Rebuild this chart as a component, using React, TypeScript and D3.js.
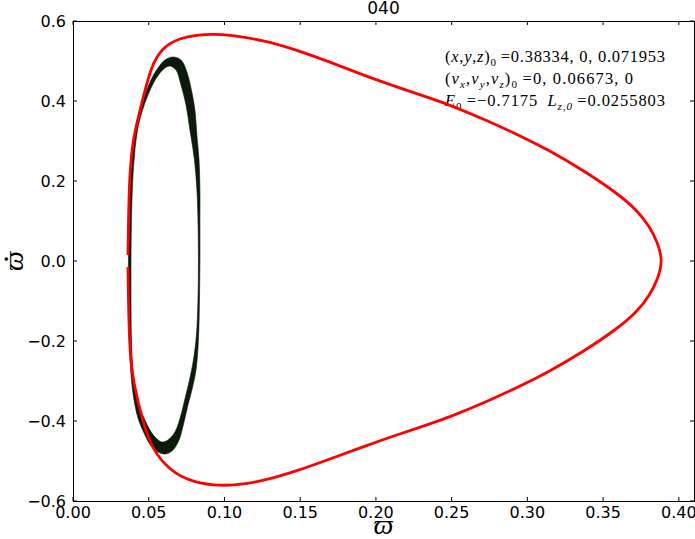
import * as d3 from "d3";

// Figure size and plot box (pixels)
const W = 695;
const H = 539;
const MARGIN = { top: 21, right: 1, bottom: 38, left: 73 };

const TITLE = "040";
const X_TICKS = [0, 0.05, 0.1, 0.15, 0.2, 0.25, 0.3, 0.35, 0.4];
const Y_TICKS = [-0.6, -0.4, -0.2, 0, 0.2, 0.4, 0.6];

// Red orbit: upper branch from left to right, lower branch from right back to left
const redUpper: [number, number][] = [
  [0.0363, 0.015], [0.0366, 0.1025], [0.0373, 0.2025], [0.0383, 0.2525],
  [0.0396, 0.3025], [0.0442, 0.3775], [0.0488, 0.445], [0.0528, 0.495],
  [0.0594, 0.535], [0.0706, 0.5575], [0.0818, 0.565], [0.0924, 0.5675],
  [0.1036, 0.565], [0.1254, 0.5525], [0.1479, 0.5275], [0.1696, 0.4975],
  [0.1914, 0.465], [0.2139, 0.435], [0.2356, 0.4075], [0.2488, 0.39],
  [0.2726, 0.3525], [0.2941, 0.315], [0.3139, 0.2775], [0.3366, 0.2275],
  [0.3591, 0.17], [0.3723, 0.1275], [0.3809, 0.085], [0.3861, 0.045],
  [0.3894, 0],
];
const redLower: [number, number][] = [
  [0.3861, -0.045], [0.3809, -0.085], [0.3723, -0.1275], [0.3591, -0.17],
  [0.3366, -0.2275], [0.3139, -0.2775], [0.2941, -0.315], [0.2726, -0.3525],
  [0.2488, -0.39], [0.2356, -0.4075], [0.2139, -0.4345], [0.1914, -0.4645],
  [0.1696, -0.495], [0.1479, -0.525], [0.1254, -0.55], [0.1102, -0.5595],
  [0.0924, -0.5625], [0.0752, -0.5475], [0.064, -0.5225], [0.0528, -0.4745],
  [0.0462, -0.405], [0.0396, -0.2975], [0.0383, -0.2525], [0.0373, -0.2025],
  [0.0366, -0.1025], [0.0363, -0.015],
];

// Black section points: outer and inner edge of the band
const ringOuter: [number, number][] = [
  [0.066, 0.51], [0.0713, 0.5025], [0.0752, 0.4725], [0.0779, 0.4325],
  [0.0805, 0.3775], [0.0818, 0.315], [0.0832, 0.2525], [0.0838, 0.1775],
  [0.0838, 0.1025], [0.0838, 0], [0.0835, -0.0975], [0.0828, -0.1975],
  [0.0812, -0.2725], [0.0785, -0.3225], [0.0759, -0.36], [0.0733, -0.4025],
  [0.07, -0.4475], [0.066, -0.4725], [0.0614, -0.4825], [0.0561, -0.4775],
  [0.0515, -0.4625], [0.0469, -0.43], [0.0429, -0.3925], [0.0403, -0.3475],
  [0.0383, -0.285], [0.0373, -0.1975], [0.037, -0.0975], [0.0366, 0],
  [0.037, 0.1025], [0.0376, 0.19], [0.0389, 0.265], [0.0409, 0.3275],
  [0.0442, 0.3775], [0.0482, 0.4225], [0.0521, 0.4575], [0.0561, 0.4825],
  [0.0607, 0.5025],
];
const ringInner: [number, number][] = [
  [0.064, 0.4875], [0.068, 0.4775], [0.0713, 0.44], [0.0746, 0.39],
  [0.0772, 0.3275], [0.0802, 0.2525], [0.0818, 0.1775], [0.0825, 0.1025],
  [0.0828, 0], [0.0825, -0.0975], [0.0815, -0.185], [0.0795, -0.2475],
  [0.0769, -0.2975], [0.0742, -0.34], [0.0709, -0.39], [0.0673, -0.4275],
  [0.0627, -0.4475], [0.0587, -0.4525], [0.0548, -0.4425], [0.0508, -0.4225],
  [0.0475, -0.3975], [0.0442, -0.3675], [0.0416, -0.3275], [0.0396, -0.2725],
  [0.0386, -0.1975], [0.0383, -0.0975], [0.0383, 0], [0.0386, 0.1025],
  [0.0393, 0.19], [0.0406, 0.265], [0.0426, 0.3275], [0.0455, 0.3725],
  [0.0495, 0.415], [0.0535, 0.4475], [0.0574, 0.47], [0.0607, 0.4825],
];

// Annotation lines: [text, italic, subscript]
type Seg = [string, boolean, boolean];
const NOTE_LINES: Seg[][] = [
  [["(", false, false], ["x", true, false], [",", false, false], ["y", true, false],
   [",", false, false], ["z", true, false], [")", false, false], ["0", false, true],
   ["\u2009=0.38334, 0, 0.071953", false, false]],
  [["(", false, false], ["v", true, false], ["x", true, true], [",", false, false],
   ["v", true, false], ["y", true, true], [",", false, false], ["v", true, false],
   ["z", true, true], [")", false, false], ["0", false, true], ["\u2009=0, 0.06673, 0", false, false]],
  [["E", true, false], ["0", false, true], ["\u2009=\u22120.7175\u2002", false, false],
   ["L", true, false], ["z,0", true, true], ["\u2009=0.0255803", false, false]],
];
const NOTE_WIDTHS = [220, 188, 220];

const SANS = "DejaVu Sans, sans-serif";
const SERIF = "Liberation Serif, DejaVu Serif, serif";
const TICK = 4;

const fmtMinus = (s: string) => s.replace("-", "\u2212");

export default function App() {
  const x = d3.scaleLinear().domain([0, 0.41]).range([MARGIN.left, W - MARGIN.right]);
  const y = d3.scaleLinear().domain([-0.6, 0.6]).range([H - MARGIN.bottom, MARGIN.top]);
  const [x0, x1] = x.range();
  const [yb, yt] = y.range();

  const redLine = d3
    .line<[number, number]>()
    .x((d) => x(d[0]))
    .y((d) => y(d[1]))
    .curve(d3.curveBasis);

  const ringLine = d3
    .line<[number, number]>()
    .x((d) => x(d[0]))
    .y((d) => y(d[1]))
    .curve(d3.curveCatmullRomClosed);

  const ringPath = (ringLine(ringOuter) || "") + (ringLine(ringInner) || "");

  return (
    <svg
      width={W}
      height={H}
      style={{ position: "absolute", left: 0, top: 0, background: "#fff" }}
    >
      <rect width={W} height={H} fill="#fff" />

      {/* black section band */}
      <path d={ringPath} fill="#0b1a0b" fillRule="evenodd" stroke="#0b1a0b" strokeWidth={0.6} />

      {/* annotation */}
      <g fontFamily={SERIF} fontSize={16} fill="#000">
        {NOTE_LINES.map((line, i) => (
          <text
            key={i}
            x={445}
            y={62 + i * 22}
            textLength={NOTE_WIDTHS[i]}
            lengthAdjust="spacing"
          >
            {line.map(([t, it, sub], j) => {
              const prevSub = j > 0 && line[j - 1][2];
              const dy = sub && !prevSub ? 4 : !sub && prevSub ? -4 : 0;
              return (
                <tspan
                  key={j}
                  dy={dy}
                  fontStyle={it ? "italic" : "normal"}
                  fontSize={sub ? 11 : 16.5}
                >
                  {t}
                </tspan>
              );
            })}
          </text>
        ))}
      </g>

      {/* red orbit */}
      <path
        d={redLine([...redUpper, ...redLower]) || undefined}
        fill="none"
        stroke="#ff0000"
        strokeWidth={2.8}
        strokeLinejoin="round"
      />

      {/* frame */}
      <rect
        x={x0}
        y={yt}
        width={x1 - x0}
        height={yb - yt}
        fill="none"
        stroke="#000"
        strokeWidth={1}
        shapeRendering="crispEdges"
      />

      {/* x ticks */}
      {X_TICKS.map((v) => (
        <g key={`x${v}`}>
          <line x1={x(v)} x2={x(v)} y1={yb} y2={yb - TICK} stroke="#000" />
          <line x1={x(v)} x2={x(v)} y1={yt} y2={yt + TICK} stroke="#000" />
          <text
            x={x(v)}
            y={yb + 17}
            textAnchor="middle"
            fontFamily={SANS}
            fontSize={16}
          >
            {d3.format(".2f")(v)}
          </text>
        </g>
      ))}

      {/* y ticks */}
      {Y_TICKS.map((v) => (
        <g key={`y${v}`}>
          <line x1={x0} x2={x0 + TICK} y1={y(v)} y2={y(v)} stroke="#000" />
          <line x1={x1} x2={x1 - TICK} y1={y(v)} y2={y(v)} stroke="#000" />
          <text
            x={x0 - 7}
            y={y(v)}
            dy="0.36em"
            textAnchor="end"
            fontFamily={SANS}
            fontSize={16}
          >
            {fmtMinus(d3.format(".1f")(v))}
          </text>
        </g>
      ))}

      {/* title */}
      <text
        x={(x0 + x1) / 2}
        y={14}
        textAnchor="middle"
        fontFamily={SANS}
        fontSize={17}
      >
        {TITLE}
      </text>

      {/* axis labels */}
      <text
        x={(x0 + x1) / 2}
        y={534}
        textAnchor="middle"
        fontFamily={SERIF}
        fontStyle="italic"
        fontSize={28}
      >
        {"\u03D6"}
      </text>
      <g transform={`translate(23, ${(yb + yt) / 2}) rotate(-90)`}>
        <text
          textAnchor="middle"
          fontFamily={SERIF}
          fontStyle="italic"
          fontSize={28}
        >
          {"\u03D6"}
        </text>
        <text
          x={2}
          y={-15}
          textAnchor="middle"
          fontFamily={SERIF}
          fontWeight="bold"
          fontSize={22}
        >
          .
        </text>
      </g>
    </svg>
  );
}
